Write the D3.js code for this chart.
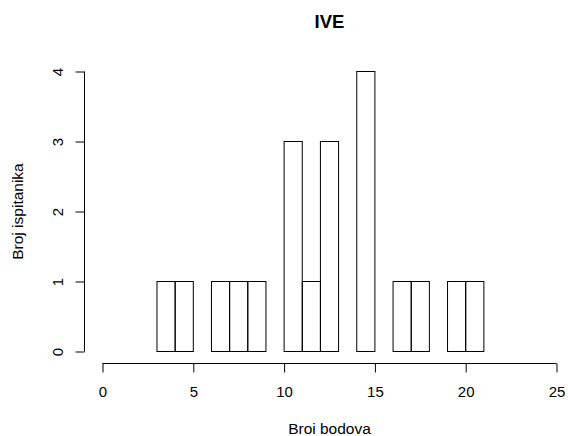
<!DOCTYPE html>
<html>
<head>
<meta charset="utf-8">
<script src="https://cdn.jsdelivr.net/npm/d3@7"></script>
<style>
  body { margin: 0; background: #fff; }
  text { font-family: "Liberation Sans", Arial, sans-serif; fill: #000; }
</style>
</head>
<body>
<div id="chart"></div>
<script>
// Histogram data (bins of width 1 from 0 to 25)
const binStarts = d3.range(0, 25);
const counts = [0, 0, 0, 1, 1, 0, 1, 1, 1, 0, 3, 1, 3, 0, 4, 0, 1, 1, 0, 1, 1, 0, 0, 0, 0];
const xTicks = [0, 5, 10, 15, 20, 25];
const yTicks = [0, 1, 2, 3, 4];

const width = 568;
const height = 436;

const svg = d3.select("#chart")
  .append("svg")
  .attr("width", width)
  .attr("height", height);

const x = d3.scaleLinear().domain([0, 25]).range([102.5, 556.5]);
const y = d3.scaleLinear().domain([0, 4]).range([351.5, 71.5]);

// bars (zero-height bins still draw as a line, like R)
svg.append("g")
  .selectAll("rect")
  .data(binStarts)
  .join("rect")
  .attr("x", d => x(d))
  .attr("width", d => x(d + 1) - x(d))
  .attr("y", (d, i) => y(counts[i]))
  .attr("height", (d, i) => y(0) - y(counts[i]))
  .attr("fill", "none")
  .attr("stroke", "#000")
  .attr("stroke-width", 1);

// x axis
const xAxis = svg.append("g")
  .attr("transform", "translate(0,363.5)")
  .call(d3.axisBottom(x).tickValues(xTicks).tickSize(9).tickSizeOuter(0));
xAxis.select(".domain").attr("d", `M${x(0)},0H${x(25)}`);
xAxis.selectAll(".tick text")
  .attr("y", 33.5).attr("dy", null)
  .style("font-size", "15px");

// y axis
const yAxis = svg.append("g")
  .attr("transform", "translate(84.5,0)")
  .call(d3.axisLeft(y).tickValues(yTicks).tickSize(9).tickSizeOuter(0).tickFormat(d3.format("d")));
yAxis.select(".domain").attr("d", `M0,${y(0)}V${y(4)}`);
yAxis.selectAll(".tick text")
  .attr("x", null).attr("dy", null)
  .attr("text-anchor", "middle")
  .attr("transform", "translate(-22,0) rotate(-90)")
  .style("font-size", "15px");

// title and labels
svg.append("text")
  .attr("x", (x(0) + x(25)) / 2)
  .attr("y", 28)
  .attr("text-anchor", "middle")
  .style("font-weight", "bold")
  .style("font-size", "18.5px")
  .text("IVE");

svg.append("text")
  .attr("x", (x(0) + x(25)) / 2)
  .attr("y", 434)
  .attr("text-anchor", "middle")
  .style("font-size", "15.5px")
  .text("Broi bodova");

svg.append("text")
  .attr("transform", `translate(23,${(y(0) + y(4)) / 2}) rotate(-90)`)
  .attr("text-anchor", "middle")
  .style("font-size", "15.5px")
  .text("Broj ispitanika");
</script>
</body>
</html>
